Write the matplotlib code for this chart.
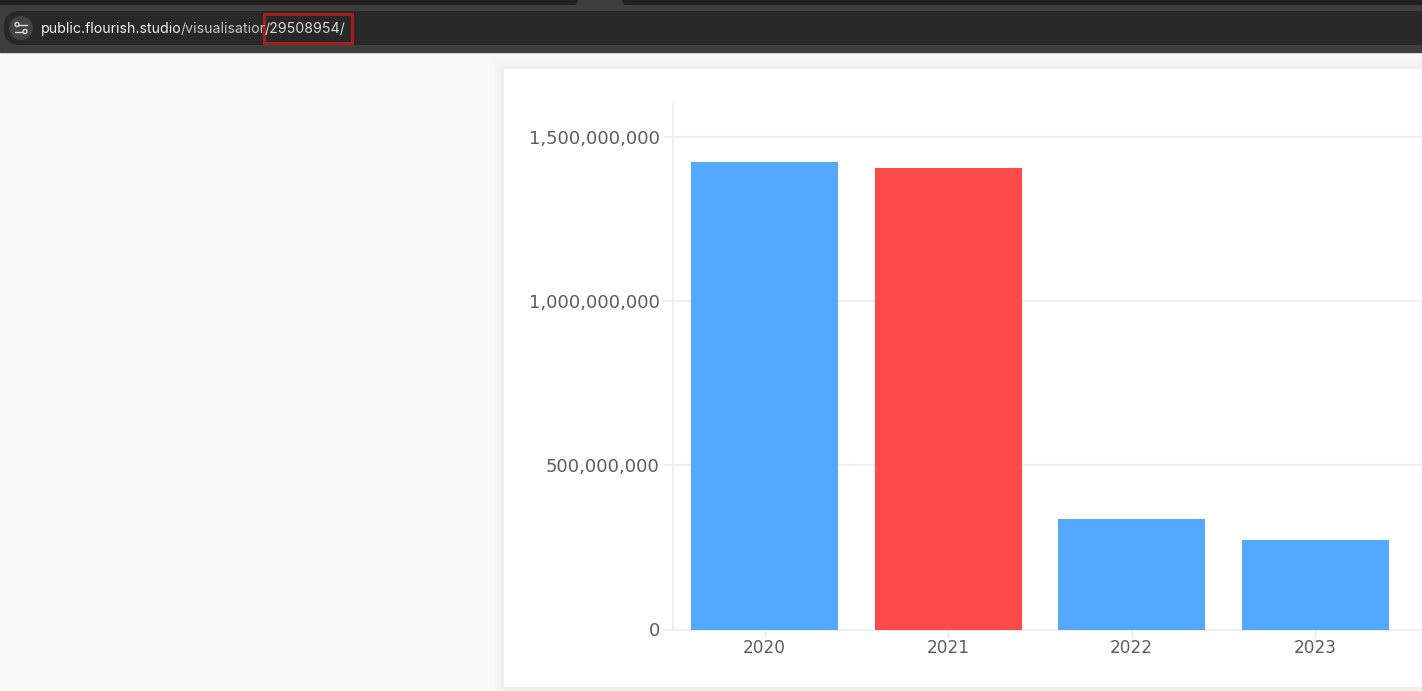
import matplotlib
matplotlib.use('Agg')
import matplotlib.pyplot as plt
from matplotlib.patches import Rectangle, FancyBboxPatch, Circle
from matplotlib.ticker import FuncFormatter

W, H = 1422, 691

# data
years = ['2020', '2021', '2022', '2023']
values = [1424000000, 1406000000, 336000000, 272000000]
bar_colors = ['#54a9ff', '#ff4a4a', '#54a9ff', '#54a9ff']
yticks = [0, 500000000, 1000000000, 1500000000]

url_host = 'public.flourish.studio'
url_path = '/visualisatior'
url_id = '/29508954/'

fig = plt.figure(figsize=(W / 100, H / 100), dpi=100, facecolor='#f9f9f9')

# page and browser chrome, in pixel coordinates
bg = fig.add_axes([0, 0, 1, 1], zorder=0)
bg.set_xlim(0, W)
bg.set_ylim(H, 0)
bg.axis('off')

bg.add_patch(Rectangle((0, 0), W, 52, color='#3e3e3e'))
# two dark tabs along the top edge
bg.add_patch(FancyBboxPatch((-40, -20), 618, 25, boxstyle='round,pad=0,rounding_size=5', fc='#202020', ec='none'))
bg.add_patch(FancyBboxPatch((622, -20), 900, 25, boxstyle='round,pad=0,rounding_size=5', fc='#202020', ec='none'))
bg.add_patch(FancyBboxPatch((4, 11), 1500, 34, boxstyle='round,pad=0,rounding_size=16', fc='#282828', ec='none'))
bg.add_patch(Circle((21, 28), 12, fc='#444444', ec='none'))
bg.plot([18, 27], [24.5, 24.5], color='#d8d8d8', lw=1)
bg.plot([15, 24], [31.5, 31.5], color='#d8d8d8', lw=1)
bg.add_patch(Circle((17, 24.5), 2, fc='#444444', ec='#d8d8d8', lw=1, zorder=3))
bg.add_patch(Circle((25, 31.5), 2, fc='#444444', ec='#d8d8d8', lw=1, zorder=3))

bg.text(41, 28.5, url_host, color='#f0f0f0', fontsize=10.2, family='Inter', va='center', ha='left')
bg.text(181, 28.5, url_path, color='#c4c4c4', fontsize=10.2, family='Inter', va='center', ha='left')
bg.add_patch(Rectangle((263.5, 14), 88, 29, fc='none', ec='#a51e1e', lw=2.2))
bg.text(265, 28.5, url_id, color='#d8d8d8', fontsize=10.2, family='Inter', va='center', ha='left')

# soft card shadow, then the card
for pad, col in [(14, '#f8f8f8'), (10, '#f6f6f6'), (6, '#f3f3f3'), (3, '#efefef')]:
    bg.add_patch(Rectangle((504 - pad, 69 - pad), W, 618 + 2 * pad, fc=col, ec='none'))
bg.add_patch(Rectangle((504, 69), W, 618, fc='white', ec='none'))

# the chart, x range runs off the right side of the card
ax = fig.add_axes([673 / W, 1 - 629.5 / H, (W - 673) / W, (629.5 - 104) / H], zorder=1)
ax.patch.set_alpha(0)
ax.bar(range(len(years)), values, width=0.8, color=bar_colors, zorder=3)

ax.set_xlim(-0.4986, 3.581)
ax.set_ylim(0, 1600000000)
ax.set_xticks(range(len(years)))
ax.set_xticklabels(years)
ax.set_yticks(yticks)
ax.yaxis.set_major_formatter(FuncFormatter(lambda v, p: f'{int(v):,}'))
ax.grid(axis='y', color='#f0f0f0', lw=1.6, zorder=1)
ax.set_axisbelow(True)

for s in ['top', 'right']:
    ax.spines[s].set_visible(False)
for s in ['left', 'bottom']:
    ax.spines[s].set_color('#efefef')
    ax.spines[s].set_linewidth(1.4)

ax.tick_params(axis='y', length=6.5, width=1.4, color='#efefef', labelcolor='#5c5c5c', labelsize=12.9, pad=3)
ax.tick_params(axis='x', length=6, width=1, color='#e8e8e8', labelcolor='#5c5c5c', labelsize=12.2, pad=1)
for t in ax.get_xticklabels() + ax.get_yticklabels():
    t.set_family('DejaVu Sans')

fig.savefig('out.png', dpi=100, facecolor=fig.get_facecolor())
